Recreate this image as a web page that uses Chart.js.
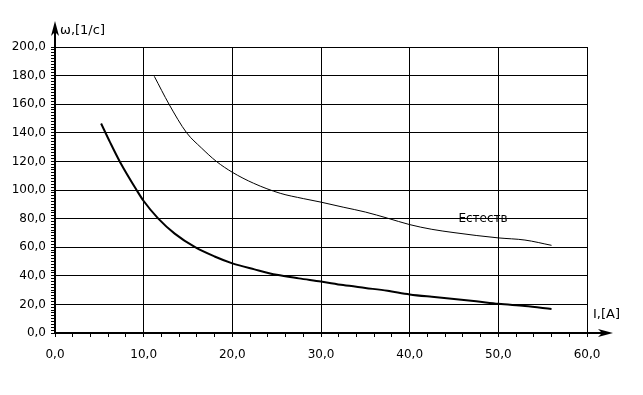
<!DOCTYPE html>
<html>
<head>
<meta charset="utf-8">
<script src="https://cdn.jsdelivr.net/npm/chart.js@4/dist/chart.umd.min.js"></script>
<style>
  body { margin: 0; background: #fff; }
  #wrap { width: 643px; height: 395px; }
</style>
</head>
<body>
<div id="wrap"><canvas id="myChart" width="643" height="395"></canvas></div>
<script>
// ток I, [A] и скорость ω, [1/с]
const iThick = [5.2, 6.2, 7.3, 9.2, 10.0, 11.65, 13.5, 15.8, 18.0, 20.0, 22.5, 25.0, 27.5, 30.0, 32.5, 35.0, 37.5, 40.0, 42.5, 45.0, 47.5, 50.0, 53.0, 56.0]
const wThick = [146.5, 133.5, 120, 100, 92.3, 80, 69.5, 60, 53.5, 48.7, 44.5, 40.7, 38.2, 36, 33.5, 31.5, 29.5, 27, 25.3, 23.8, 22.2, 20.4, 18.8, 16.8]

const iNat = [11.2, 12.86, 14.85, 16.5, 18.2, 20.0, 22.4, 25.4, 28.0, 30.0, 32.5, 35.0, 37.5, 40.0, 42.5, 45.0, 47.5, 50.0, 53.0, 56.0]
const wNat = [179.5, 160, 140, 129.5, 120, 112.4, 104.7, 97.7, 94, 91.5, 88, 84.6, 80.3, 75.8, 72.5, 70.2, 68.2, 66.5, 65, 61.3]

const natLabel = 'Естеств'
const xTitle = 'I,[A]'
const yTitle = 'ω,[1/с]'

const fmt = v => v.toFixed(1).replace('.', ',')
const toPts = (xs, ys) => xs.map((x, i) => ({ x: x, y: ys[i] }))

const FONT = { family: 'DejaVu Sans', size: 12 }

// стрелки осей и подписи
const extras = {
    id: 'extras',
    afterDraw(chart) {
        const c = chart.ctx
        const a = chart.chartArea
        const xs = chart.scales.x
        const ys = chart.scales.y
        const x0 = xs.getPixelForValue(0)
        const y0 = ys.getPixelForValue(0)
        c.save()
        c.strokeStyle = '#000'
        c.fillStyle = '#000'
        c.lineWidth = 2
        // y arrow
        c.beginPath()
        c.moveTo(x0, a.top)
        c.lineTo(x0, a.top - 20)
        c.stroke()
        c.beginPath()
        c.moveTo(x0, a.top - 26)
        c.lineTo(x0 - 4, a.top - 11)
        c.lineTo(x0, a.top - 15)
        c.lineTo(x0 + 4, a.top - 11)
        c.closePath()
        c.fill()
        // x arrow
        c.beginPath()
        c.moveTo(a.right, y0)
        c.lineTo(a.right + 20, y0)
        c.stroke()
        c.beginPath()
        c.moveTo(a.right + 26, y0)
        c.lineTo(a.right + 11, y0 - 4)
        c.lineTo(a.right + 15, y0)
        c.lineTo(a.right + 11, y0 + 4)
        c.closePath()
        c.fill()

        c.font = '13px "DejaVu Sans"'
        c.textBaseline = 'middle'
        c.textAlign = 'left'
        c.fillText(yTitle, x0 + 5, a.top - 16)
        c.fillText(xTitle, a.right + 6, y0 - 18)
        c.font = '12px "DejaVu Sans"'
        c.fillText(natLabel, xs.getPixelForValue(45.5), ys.getPixelForValue(79.5))
        c.restore()
    }
}

const myChart = new Chart(document.getElementById('myChart'), {
    type: 'line',
    data: {
        datasets: [
            {
                data: toPts(iThick, wThick),
                borderColor: '#000',
                borderWidth: 2,
                pointRadius: 0,
                cubicInterpolationMode: 'monotone'
            },
            {
                data: toPts(iNat, wNat),
                borderColor: '#000',
                borderWidth: 1,
                pointRadius: 0,
                cubicInterpolationMode: 'monotone'
            }
        ]
    },
    options: {
        responsive: false,
        animation: false,
        layout: { padding: { left: 0, right: 56, top: 47, bottom: 0 } },
        plugins: {
            legend: { display: false },
            tooltip: { enabled: false }
        },
        scales: {
            x: {
                type: 'linear',
                min: 0,
                max: 60,
                afterFit(s) { s.height = 62 },
                ticks: {
                    stepSize: 2,
                    autoSkip: false,
                    maxRotation: 0,
                    padding: 11,
                    color: '#000',
                    font: FONT,
                    callback: v => Math.round(v) % 10 === 0 ? fmt(v) : ''
                },
                grid: {
                    color: c => Math.round(c.tick.value) % 10 === 0 ? '#000' : 'rgba(0,0,0,0)',
                    tickColor: '#000',
                    tickLength: 4,
                    lineWidth: 1
                },
                border: { color: '#000', width: 2 }
            },
            y: {
                min: 0,
                max: 200,
                afterFit(s) { s.width = 55 },
                ticks: {
                    stepSize: 2,
                    autoSkip: false,
                    padding: 5,
                    color: '#000',
                    font: FONT,
                    callback: v => Math.round(v) % 20 === 0 ? fmt(v) : ''
                },
                grid: {
                    color: c => Math.round(c.tick.value) % 20 === 0 ? '#000' : 'rgba(0,0,0,0)',
                    tickColor: '#000',
                    tickLength: 4,
                    lineWidth: 1
                },
                border: { color: '#000', width: 2 }
            }
        }
    },
    plugins: [extras]
})
</script>
</body>
</html>
